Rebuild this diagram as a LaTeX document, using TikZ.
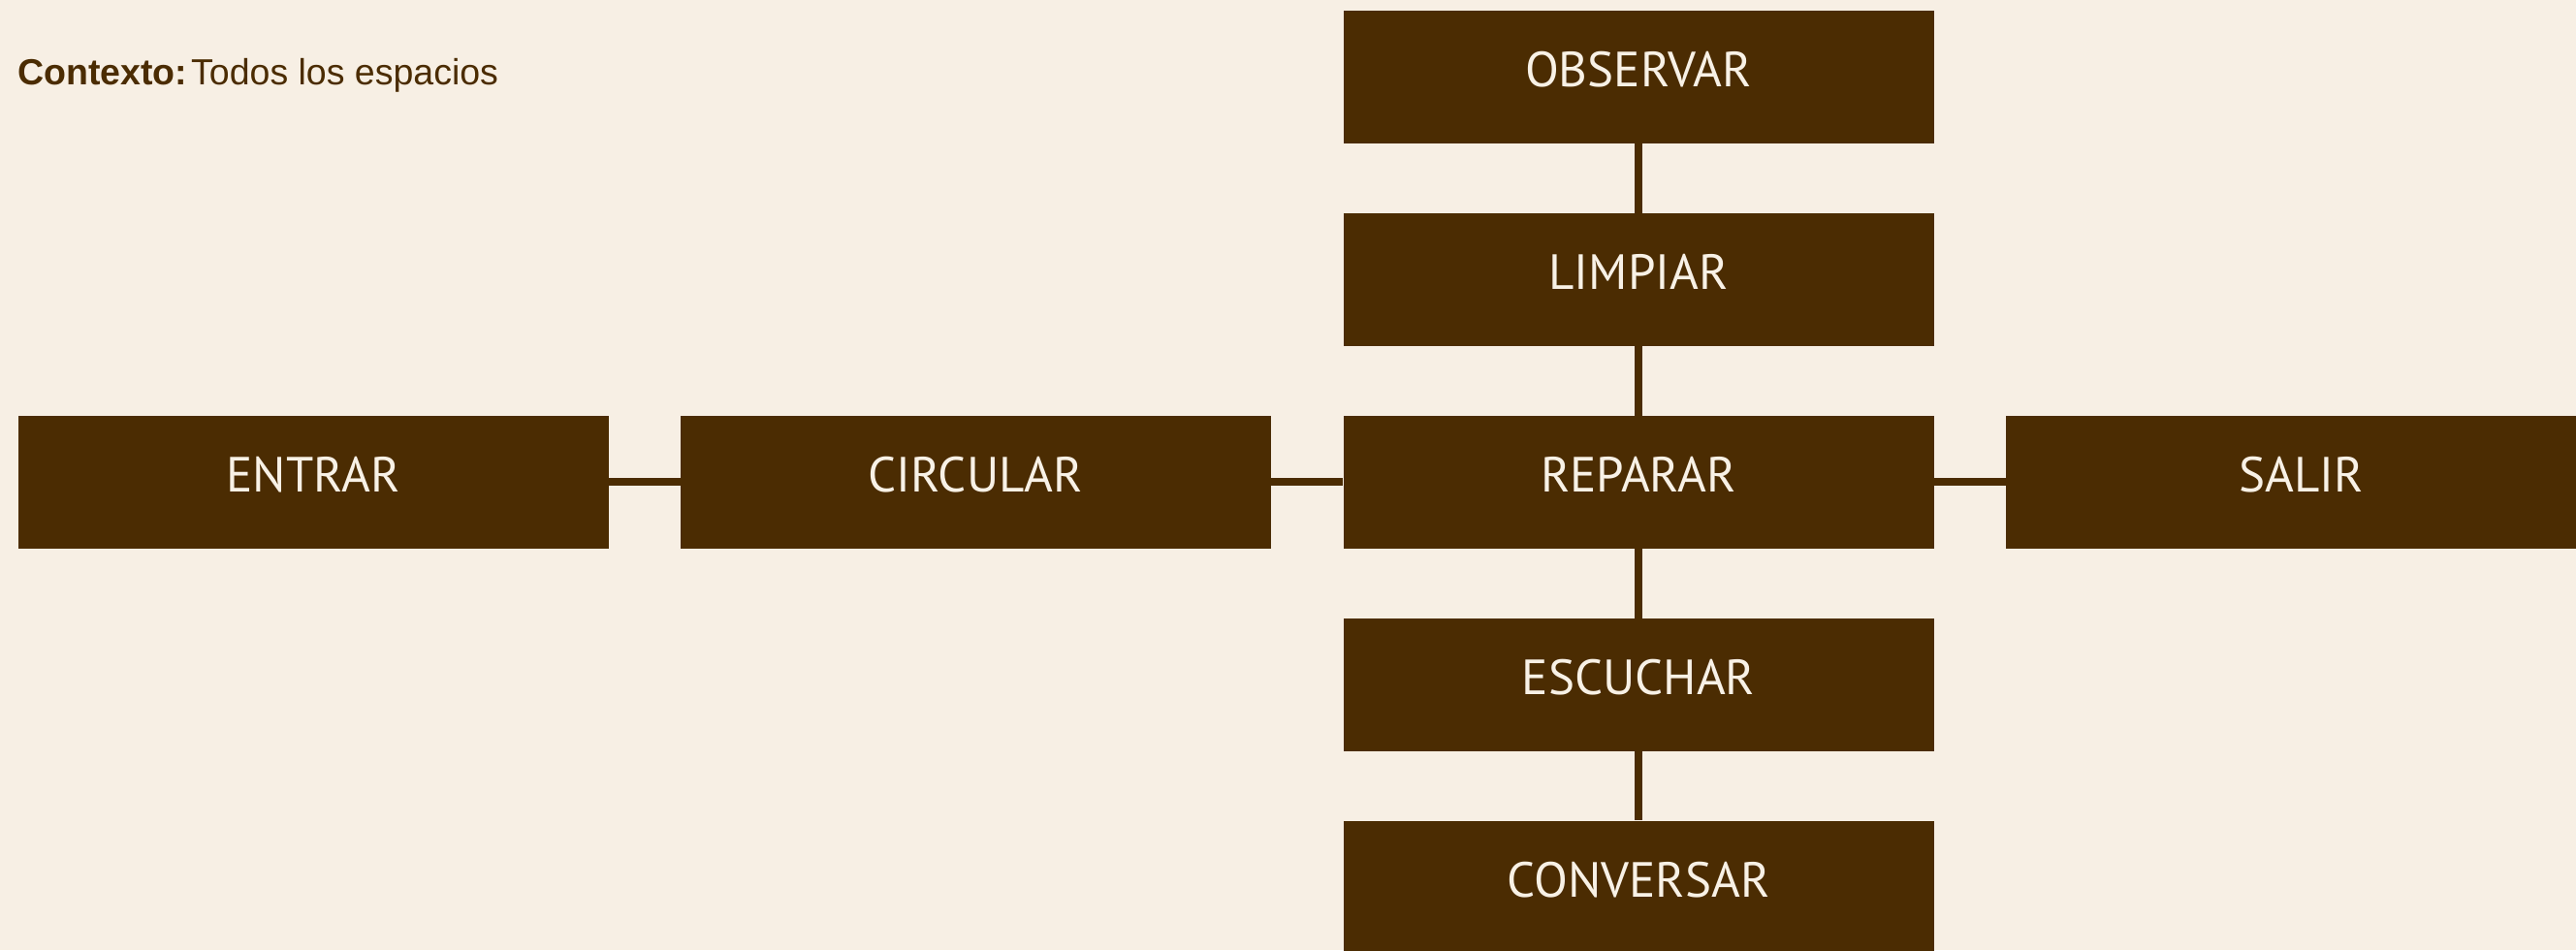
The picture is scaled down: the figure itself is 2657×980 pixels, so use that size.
\documentclass[tikz,border=0pt]{standalone}
\usepackage{fontspec}
\setmainfont{PT Sans}
\newfontfamily\ctxfont{Liberation Sans}
\definecolor{bg}{RGB}{247,239,228}
\definecolor{brn}{RGB}{75,44,2}
\definecolor{cream}{RGB}{248,241,230}
\begin{document}
\begin{tikzpicture}[x=1pt,y=-1pt,
  stepbox/.style={fill=brn, draw=none, minimum width=609pt, minimum height=137pt,
    inner sep=0pt, text=cream, font=\fontsize{51}{60}\selectfont,
    text height=36pt, text depth=16pt},
  link/.style={draw=brn, line width=8pt}]
\fill[bg] (0,0) rectangle (2657,980);
\useasboundingbox (0,0) rectangle (2657,980);
\clip (0,0) rectangle (2657,980);
\node[anchor=base west, text=brn, inner sep=0pt,
  font=\ctxfont\fontsize{37.5}{44}\selectfont] (ctx) at (18,87)
  {\textbf{Contexto:}\hspace{4pt}Todos los espacios};
\node[stepbox] (obs) at (1690,79.5) {OBSERVAR};
\node[stepbox] (lim) at (1690,288.4) {LIMPIAR};
\node[stepbox] (rep) at (1690,497.3) {REPARAR};
\node[stepbox] (esc) at (1690,706.2) {ESCUCHAR};
\node[stepbox] (con) at (1690,915.1) {CONVERSAR};
\node[stepbox] (ent) at (323,497.3) {ENTRAR};
\node[stepbox] (cir) at (1006.5,497.3) {CIRCULAR};
\node[stepbox] (sal) at (2373.5,497.3) {SALIR};
\draw[link] (obs.south) -- (lim.north);
\draw[link] (lim.south) -- (rep.north);
\draw[link] (rep.south) -- (esc.north);
\draw[link] (esc.south) -- (con.north);
\draw[link] (ent.east) -- (cir.west);
\draw[link] (cir.east) -- (rep.west);
\draw[link] (rep.east) -- (sal.west);
\end{tikzpicture}
\end{document}
